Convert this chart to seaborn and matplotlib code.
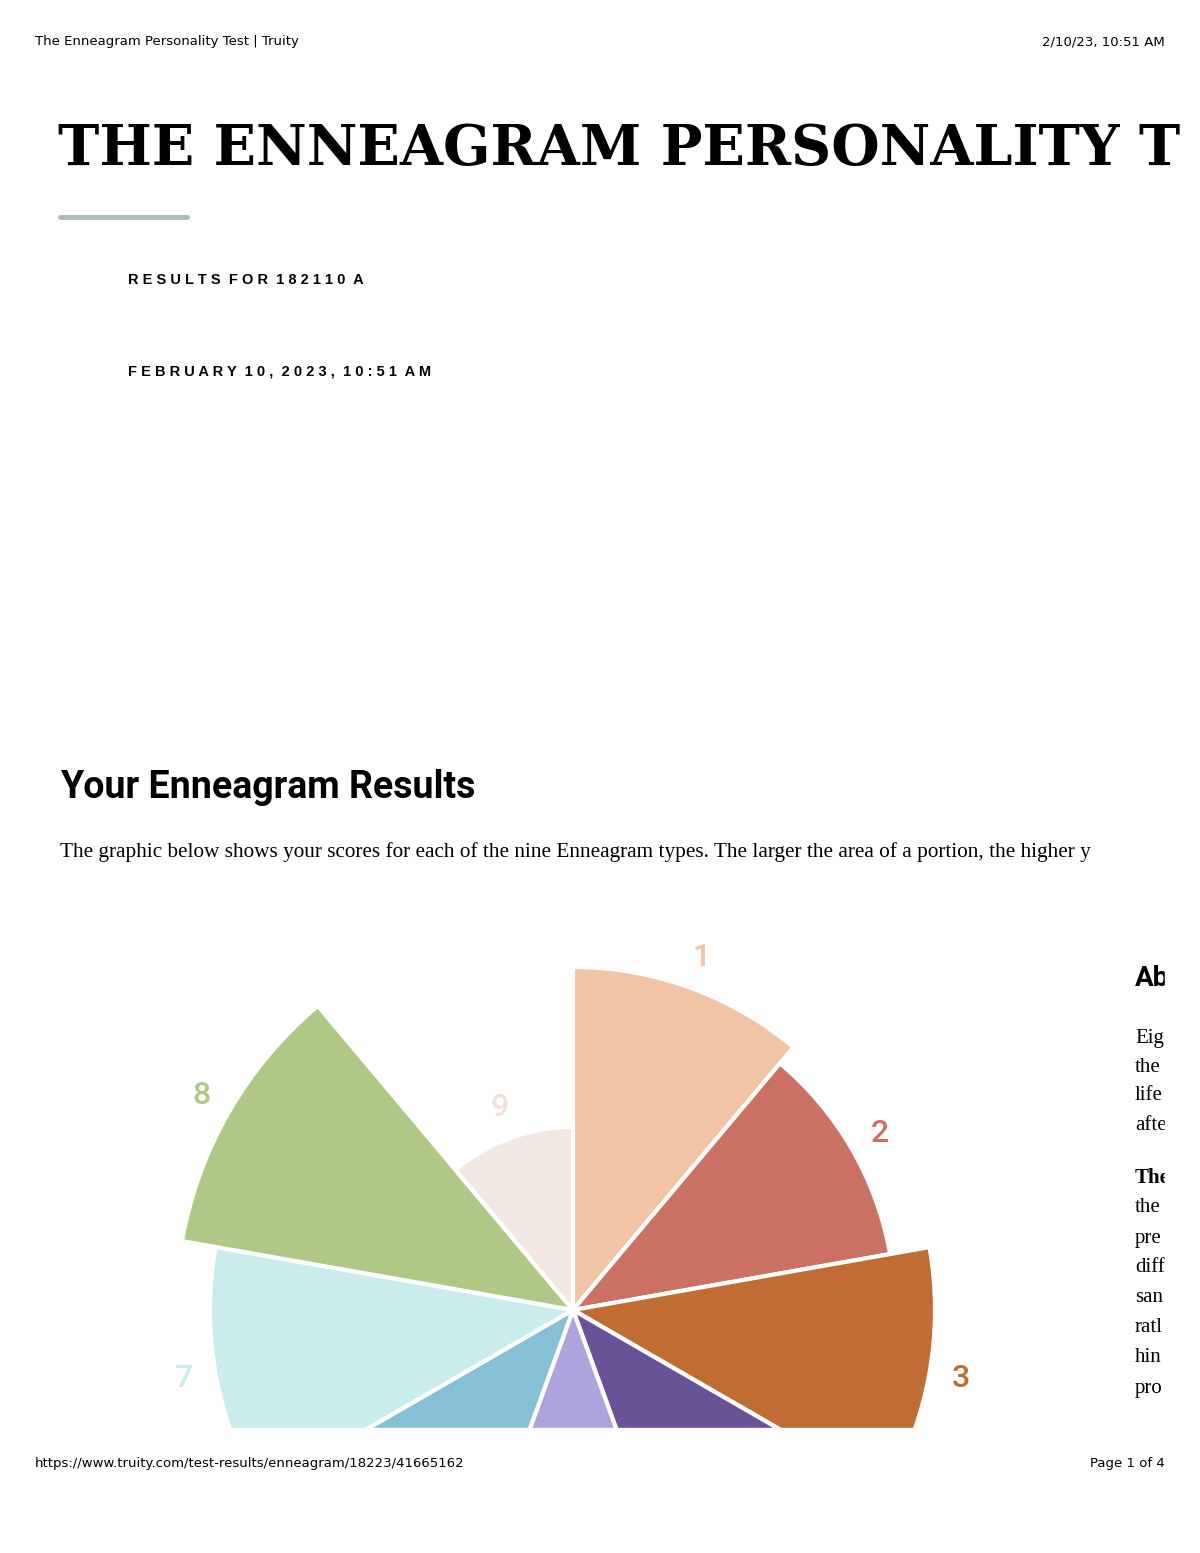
import numpy as np
import matplotlib
matplotlib.use("Agg")
import matplotlib.pyplot as plt
import seaborn as sns

sns.set_style("white")
plt.rcParams['font.family'] = ['DejaVu Sans']
plt.rcParams['text.color'] = 'black'

types = ["1", "2", "3", "4", "5", "6", "7", "8", "9"]
scores = [343, 322, 362, 250, 140, 260, 363, 397, 183]
colors = ["#F0C4A4", "#CB7163", "#C06C33", "#6A5298", "#AFA3DD",
          "#86C0D6", "#C9EDEC", "#AFC885", "#F3E8E3"]
label_colors = ["#F0C4A4", "#CB7163", "#C06C33", "#6A5298", "#AFA3DD",
                "#86C0D6", "#C9EDEC", "#AFC885", "#F3E0D8"]

W, H = 1200, 1553
fig = plt.figure(figsize=(W / 100, H / 100), dpi=100)

def fx(x): return x / W
def fy(y): return 1 - y / H

R = 400
ax = fig.add_axes([fx(573 - R), fy(1310 + R), 2 * R / W, 2 * R / H], projection="polar")
ax.set_theta_zero_location("N")
ax.set_theta_direction(-1)
theta = np.deg2rad(np.arange(9) * 40)
ax.bar(theta, scores, width=np.deg2rad(40), align="edge", color=colors,
       edgecolor="white", linewidth=3)
for i, (t, s) in enumerate(zip(types, scores)):
    ax.text(np.deg2rad(i * 40 + 20), s + 32, t, color=label_colors[i],
            fontsize=23, ha="center", va="center", family="Roboto",
            fontweight="medium", fontstretch="condensed")
ax.set_ylim(0, R)
ax.axis("off")

fig.patches.append(plt.Rectangle((0, 0), 1, fy(1428), transform=fig.transFigure,
                                 color="white", zorder=5))
fig.patches.append(plt.Rectangle((fx(1165), fy(1428)), 1, fy(940) - fy(1428),
                                 transform=fig.transFigure, color="white", zorder=5))

fig.text(fx(35), fy(42), "The Enneagram Personality Test | Truity", fontsize=9.5, va="center", zorder=6)
fig.text(fx(1165), fy(42), "2/10/23, 10:51 AM", fontsize=9.5, va="center", ha="right", zorder=6)
fig.text(fx(58), fy(150), "THE ENNEAGRAM PERSONALITY T",
         fontsize=40, fontweight="bold", family="DejaVu Serif", va="center")
fig.add_artist(plt.Line2D([fx(60), fx(187)], [fy(217), fy(217)], color="#A8BDBD", lw=3.5))
fig.text(fx(128), fy(280), "R E S U L T S  F O R  1 8 2 1 1 0  A", fontsize=10.5,
         fontweight="bold", va="center", family="Liberation Sans")
fig.text(fx(128), fy(372), "F E B R U A R Y  1 0 ,  2 0 2 3 ,  1 0 : 5 1  A M", fontsize=10.5,
         fontweight="bold", va="center", family="Liberation Sans")
fig.text(fx(60), fy(788), "Your Enneagram Results", fontsize=27, fontweight="bold",
         family="Roboto", fontstretch="condensed", va="center")
fig.text(fx(60), fy(852), "The graphic below shows your scores for each of the nine Enneagram types. "
         "The larger the area of a portion, the higher y", fontsize=15.3,
         family="Liberation Serif", va="center")
fig.text(fx(1135), fy(978), "Ab", fontsize=20, fontweight="bold", family="Roboto", va="center")
frags = [("Eig", 1038), ("the", 1067), ("life", 1096), ("afte", 1126),
         ("The", 1178), ("the", 1208), ("pre", 1238), ("diff", 1268),
         ("san", 1298), ("ratl", 1327), ("hin", 1357), ("pro", 1388)]
for t, y in frags:
    fig.text(fx(1135), fy(y), t, fontsize=15, family="Liberation Serif", va="center",
             fontweight="bold" if y == 1178 else "normal")
fig.text(fx(35), fy(1464), "https://www.truity.com/test-results/enneagram/18223/41665162",
         fontsize=9.5, va="center", zorder=6)
fig.text(fx(1165), fy(1464), "Page 1 of 4", fontsize=9.5, va="center", ha="right", zorder=6)

fig.savefig("out.png", dpi=100)
